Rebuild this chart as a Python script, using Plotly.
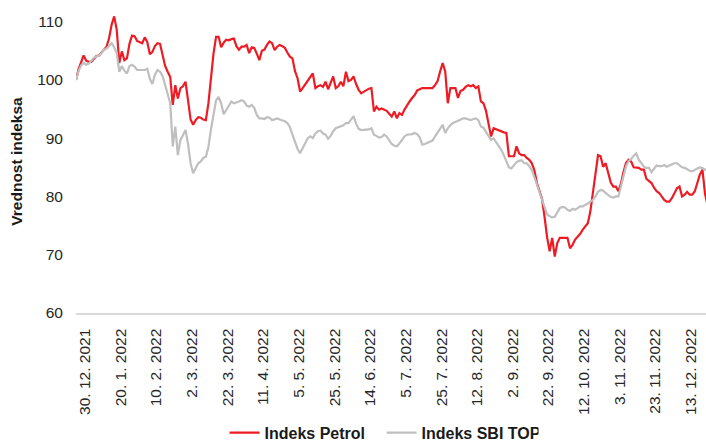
import pandas as pd
import plotly.graph_objects as go

# Trading-day calendar (Ljubljana Stock Exchange)
START = "2021-12-30"
END = "2022-12-29"
HOLIDAYS = ["2021-12-31", "2022-02-08", "2022-04-15", "2022-04-18", "2022-04-27",
            "2022-05-02", "2022-06-24", "2022-08-15", "2022-10-31", "2022-11-01",
            "2022-12-26"]

TICK_LABELS = ["30. 12. 2021", "20. 1. 2022", "10. 2. 2022", "2. 3. 2022", "22. 3. 2022",
               "11. 4. 2022", "5. 5. 2022", "25. 5. 2022", "14. 6. 2022", "5. 7. 2022",
               "25. 7. 2022", "12. 8. 2022", "2. 9. 2022", "22. 9. 2022", "12. 10. 2022",
               "3. 11. 2022", "23. 11. 2022", "13. 12. 2022"]

PETROL = [
    100.0, 101.8, 103.0, 104.2, 103.3, 103.1, 103.1, 103.6, 104.1, 104.2,
    104.8, 105.2, 105.7, 107.2, 109.5, 110.9, 108.6, 102.9, 104.9, 103.4,
    103.7, 106.2, 107.6, 107.5, 106.7, 106.5, 106.3, 107.3, 106.5, 104.4,
    104.8, 105.8, 106.3, 106.2, 104.0, 102.4, 101.4, 100.5, 95.7, 99.1,
    96.8, 98.6, 98.9, 99.7, 96.5, 93.2, 92.3, 93.1, 93.6, 93.5,
    93.2, 93.1, 96.0, 100.5, 104.5, 107.4, 107.4, 105.6, 106.4, 106.9,
    106.8, 107.0, 107.1, 105.8, 105.2, 105.7, 105.7, 106.0, 104.6, 105.6,
    105.5, 104.5, 103.4, 105.0, 105.2, 106.0, 106.6, 106.3, 105.1, 105.7,
    106.0, 105.8, 105.5, 104.7, 104.0, 103.7, 101.5, 100.3, 98.0, 98.6,
    99.3, 99.8, 100.5, 101.1, 98.6, 98.9, 99.1, 98.8, 99.7, 98.4,
    99.5, 100.6, 98.6, 98.9, 99.7, 98.9, 101.4, 99.8, 100.0, 100.6,
    99.3, 98.3, 97.7, 98.0, 98.3, 98.5, 98.6, 94.6, 95.4, 94.9,
    95.1, 94.9, 94.7, 94.2, 93.7, 94.6, 93.4, 94.3, 94.0, 94.9,
    95.7, 96.3, 96.9, 97.4, 98.2, 98.4, 98.6, 98.6, 98.6, 98.6,
    98.6, 99.1, 99.8, 101.5, 102.9, 101.4, 96.0, 98.6, 98.6, 98.6,
    96.9, 98.1, 98.3, 98.8, 99.1, 98.9, 99.1, 98.6, 98.9, 96.3,
    96.0, 94.7, 92.5, 90.3, 91.7, 91.5, 91.3, 91.2, 91.0, 90.9,
    86.9, 86.9, 86.9, 88.6, 87.4, 87.1, 87.1, 86.6, 86.3, 85.7,
    84.5, 82.3, 81.0, 79.6, 76.5, 73.0, 70.6, 72.9, 69.7, 72.0,
    72.9, 72.9, 72.9, 72.9, 71.1, 71.7, 72.6, 73.1, 73.6, 74.3,
    74.8, 75.4, 77.5, 81.0, 84.5, 87.1, 86.9, 85.1, 85.7, 84.2,
    82.4, 81.7, 81.7, 80.9, 82.2, 84.2, 85.8, 86.3, 86.0, 85.0,
    84.9, 84.9, 84.6, 84.6, 83.0, 82.7, 82.3, 81.5, 80.9, 80.6,
    80.0, 79.4, 79.1, 79.1, 79.7, 80.6, 81.4, 81.7, 80.0, 80.3,
    80.8, 80.3, 80.3, 80.9, 82.3, 83.8, 84.6, 80.5, 78.5, 78.0,
]

SBI_TOP = [
    100.0, 101.5, 102.5, 102.9, 102.6, 102.8, 103.3, 103.8, 104.0, 104.2,
    104.6, 105.2, 105.4, 105.8, 106.3, 105.6, 104.6, 101.4, 102.4, 101.6,
    101.1, 102.4, 102.6, 102.3, 101.7, 101.7, 101.7, 101.7, 101.9, 100.2,
    99.3, 100.9, 101.7, 101.4, 100.7, 99.2, 97.5, 96.0, 88.6, 92.0,
    87.1, 89.7, 90.5, 91.4, 89.0, 85.7, 84.0, 84.8, 85.7, 86.0,
    86.6, 86.8, 88.5, 91.5, 94.0, 96.5, 97.1, 96.0, 94.1, 94.8,
    95.6, 96.3, 96.0, 96.1, 96.3, 96.5, 96.3, 95.6, 95.4, 95.7,
    95.2, 94.0, 93.4, 93.4, 93.3, 93.6, 93.5, 93.1, 93.3, 93.4,
    93.2, 93.1, 92.9, 92.6, 91.9, 90.6, 89.3, 88.2, 87.4, 88.2,
    89.2, 90.0, 90.3, 90.0, 90.8, 91.2, 91.3, 90.8, 90.6, 89.9,
    90.4, 91.2, 91.7, 91.9, 92.0, 92.2, 92.6, 92.6, 93.2, 93.8,
    92.5, 91.6, 91.4, 91.4, 91.4, 91.5, 91.7, 90.6, 90.4, 90.1,
    90.2, 90.6, 90.3, 89.6, 89.0, 88.7, 88.6, 89.1, 89.8, 90.3,
    90.6, 90.6, 90.7, 90.9, 90.7, 90.1, 88.9, 89.0, 89.2, 89.4,
    89.6, 90.3, 90.9, 91.5, 92.3, 90.9, 91.7, 92.2, 92.6, 92.8,
    93.0, 93.2, 93.4, 93.4, 93.3, 93.1, 93.3, 93.4, 93.1, 92.0,
    91.8, 91.2, 90.4, 89.7, 90.0, 89.3, 88.7, 88.0, 87.1, 86.1,
    85.0, 84.8, 85.4, 85.9, 86.1, 86.2, 85.7, 85.7, 85.2, 84.5,
    83.3, 82.0, 80.8, 79.5, 78.0, 76.9, 76.6, 76.4, 76.5, 77.3,
    78.0, 78.2, 78.1, 77.7, 77.5, 77.9, 77.7, 78.0, 78.3, 78.3,
    78.5, 78.8, 79.1, 79.4, 80.0, 80.8, 81.1, 81.0, 80.6, 80.2,
    79.9, 79.8, 80.0, 80.0, 81.6, 83.5, 85.2, 86.1, 86.4, 87.0,
    87.4, 86.3, 85.6, 85.1, 84.9, 84.9, 84.2, 84.8, 85.3, 85.2,
    85.2, 85.4, 85.1, 85.3, 85.5, 85.7, 85.7, 85.3, 85.0, 84.9,
    84.6, 84.4, 84.3, 84.6, 84.8, 85.0, 84.9, 84.6, 84.4, 84.3,
]

Y_TICKS = [60, 70, 80, 90, 100, 110]

days = pd.bdate_range(START, END, freq="C", holidays=HOLIDAYS)
DATES = [f"{d.day}. {d.month}. {d.year}" for d in days]
n = min(len(DATES), len(PETROL), len(SBI_TOP))
DATES = DATES[:n]

FONT = "Liberation Sans, Arial, sans-serif"
RED = "#ED1C24"
GREY = "#BFBFBF"

fig = go.Figure()
fig.add_trace(go.Scatter(x=DATES, y=PETROL[:n], mode="lines", name="Indeks Petrol",
                         line=dict(color=RED, width=2.2)))
fig.add_trace(go.Scatter(x=DATES, y=SBI_TOP[:n], mode="lines", name="Indeks SBI TOP",
                         line=dict(color=GREY, width=2.2)))

fig.update_layout(
    width=706, height=441,
    margin=dict(l=76, r=0, t=10, b=128, autoexpand=False),
    paper_bgcolor="white", plot_bgcolor="white",
    font=dict(family=FONT, size=15.5, color="#262626"),
    showlegend=True,
    legend=dict(orientation="h", x=0.485, xanchor="center", y=-0.395, yanchor="middle",
                font=dict(family=FONT, size=16, color="#1a1a1a", weight="bold"),
                entrywidth=112, entrywidthmode="pixels",
                bgcolor="rgba(0,0,0,0)", tracegroupgap=0),
)
fig.update_xaxes(
    type="category", categoryorder="array", categoryarray=DATES,
    tickmode="array", tickvals=TICK_LABELS, ticktext=TICK_LABELS,
    tickangle=-90, range=[0, 247.4], automargin=False,
    showline=True, linecolor="#D9D9D9", linewidth=1.5,
    showgrid=False, zeroline=False, ticks="",
    tickfont=dict(family=FONT, size=15.5, color="#262626"),
    ticklabelshift=9, ticklabelstandoff=8,
)
fig.update_yaxes(
    range=[60, 112], tickmode="array", tickvals=Y_TICKS, automargin=False,
    showgrid=False, zeroline=False, showline=False, ticks="",
    tickfont=dict(family=FONT, size=15.5, color="#262626"),
    ticklabelstandoff=12,
    title=dict(text="Vrednost indeksa", standoff=10,
               font=dict(family=FONT, size=15.5, color="#1a1a1a", weight="bold")),
)

fig.write_html("out.html",
               config={"displayModeBar": False, "staticPlot": True},
               post_script="document.body.style.margin='0';document.body.style.overflow='hidden';")
